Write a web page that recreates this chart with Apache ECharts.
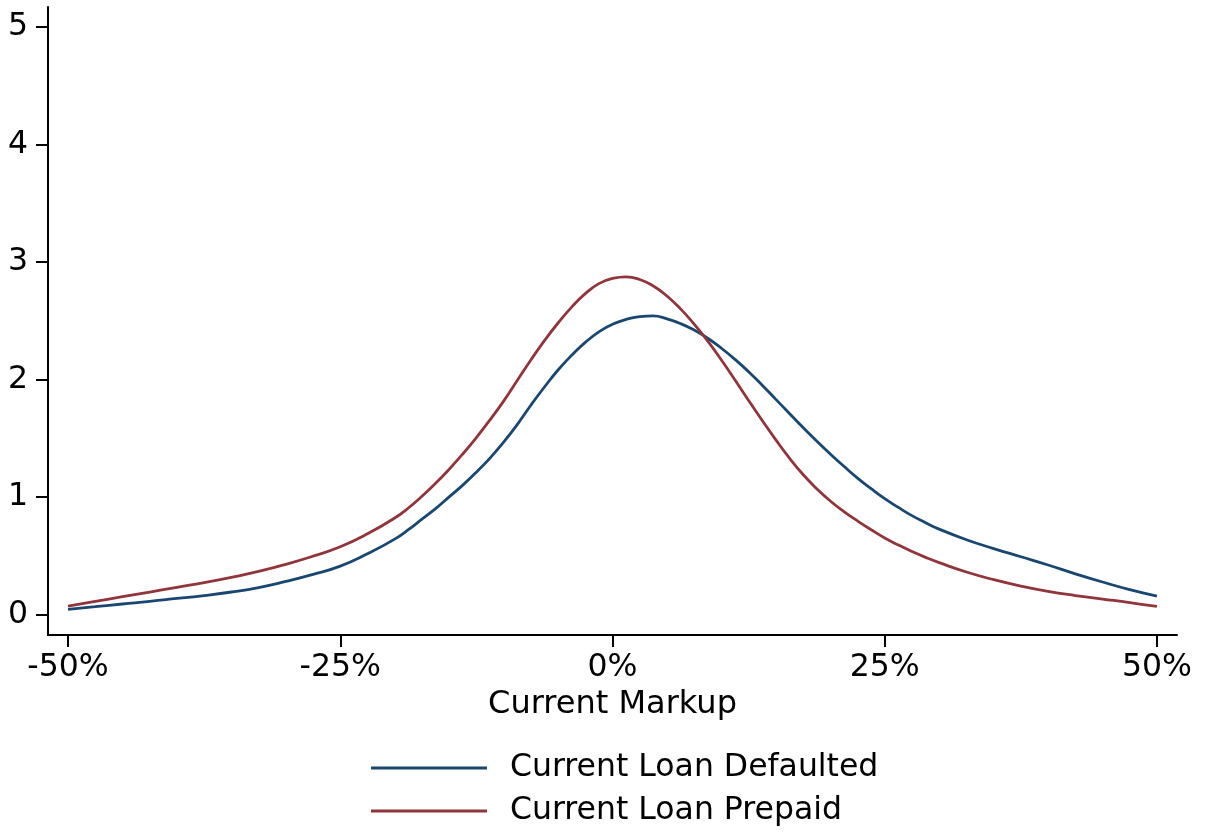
<!DOCTYPE html>
<html>
<head>
<meta charset="utf-8">
<script src="https://cdn.jsdelivr.net/npm/echarts@6/dist/echarts.min.js"></script>
<style>
  html, body { margin: 0; padding: 0; background: #fff; }
  #chart { width: 1206px; height: 833px; }
</style>
</head>
<body>
<div id="chart"></div>
<script>
// Kernel density of current markup, by outcome of the current loan
const seriesNames = ['Current Loan Defaulted', 'Current Loan Prepaid'];

// markup, percent (denser where the curves bend most)
const markup = [-50, -47.5, -45, -42.5, -40, -37.5, -35, -32.5, -30, -27.5, -25, -22.5,
                -20, -18.75, -17.5, -16.25, -15, -13.75, -12.5, -11.25, -10, -8.75,
                -7.5, -6.25, -5, -3.75, -2.5, -1.25, 0, 1.25, 2.5, 3.75,
                5, 6.25, 7.5, 8.75, 10, 11.25, 12.5, 13.75, 15, 16.25,
                17.5, 18.75, 20, 21.25, 22.5, 23.75, 25, 26.25, 27.5, 28.75, 30,
                32.5, 35, 37.5, 40, 42.5, 45, 47.5, 50];

const defaultedDensity = [0.043, 0.065, 0.088, 0.11, 0.135, 0.16, 0.19, 0.228, 0.28, 0.34, 0.41, 0.515,
                          0.64, 0.72, 0.81, 0.90, 1.00, 1.10, 1.21, 1.33, 1.465, 1.615,
                          1.78, 1.935, 2.08, 2.205, 2.315, 2.405, 2.47, 2.51, 2.535, 2.54,
                          2.515, 2.475, 2.42, 2.35, 2.265, 2.17, 2.065, 1.95, 1.83, 1.71,
                          1.59, 1.475, 1.365, 1.26, 1.16, 1.07, 0.985, 0.91, 0.84, 0.78, 0.725,
                          0.635, 0.56, 0.49, 0.42, 0.345, 0.275, 0.21, 0.155];

const prepaidDensity = [0.07, 0.11, 0.15, 0.19, 0.23, 0.27, 0.315, 0.365, 0.425, 0.495, 0.575, 0.685,
                        0.82, 0.905, 1.005, 1.115, 1.235, 1.365, 1.505, 1.655, 1.815, 1.99,
                        2.165, 2.33, 2.48, 2.615, 2.73, 2.815, 2.86, 2.873, 2.85, 2.795,
                        2.71, 2.60, 2.47, 2.325, 2.165, 1.995, 1.82, 1.65, 1.485, 1.33,
                        1.19, 1.07, 0.965, 0.875, 0.795, 0.72, 0.65, 0.59, 0.535, 0.485, 0.44,
                        0.36, 0.295, 0.24, 0.195, 0.16, 0.13, 0.10, 0.067];

const xTicks = [-50, -25, 0, 25, 50];
const yTicks = [0, 1, 2, 3, 4, 5];

const pairs = (xs, ys) => xs.map((x, i) => [x, ys[i]]);

const FONT = 'DejaVu Sans';
const chart = echarts.init(document.getElementById('chart'), null, { renderer: 'canvas' });

chart.setOption({
  animation: false,
  backgroundColor: '#ffffff',
  textStyle: { fontFamily: FONT, color: '#000' },
  grid: { left: 48, right: 29, top: 7, bottom: 198, containLabel: false },
  xAxis: {
    type: 'value',
    min: -51.84,
    max: 51.84,
    name: 'Current Markup',
    nameLocation: 'middle',
    nameGap: 43,
    nameTextStyle: { fontFamily: FONT, fontSize: 32, color: '#000' },
    axisLine: { show: true, onZero: false, lineStyle: { color: '#000', width: 2 } },
    axisTick: { show: true, length: 12, lineStyle: { color: '#000', width: 2 }, customValues: xTicks },
    axisLabel: { fontFamily: FONT, fontSize: 31.5, color: '#000', margin: 17,
                 customValues: xTicks, formatter: v => v + '%' },
    splitLine: { show: false }
  },
  yAxis: {
    type: 'value',
    min: -0.176,
    max: 5.17,
    axisLine: { show: true, onZero: false, lineStyle: { color: '#000', width: 2 } },
    axisTick: { show: true, length: 12, lineStyle: { color: '#000', width: 2 }, customValues: yTicks },
    axisLabel: { fontFamily: FONT, fontSize: 31.5, color: '#000', margin: 20,
                 customValues: yTicks, formatter: v => String(v) },
    splitLine: { show: false }
  },
  legend: {
    orient: 'vertical',
    left: 366,
    top: 747,
    itemWidth: 116,
    itemHeight: 3,
    itemGap: 11,
    icon: 'rect',
    textStyle: { fontFamily: FONT, fontSize: 31.5, lineHeight: 31, color: '#000', padding: [0, 0, 0, 18] },
    data: seriesNames
  },
  series: [
    {
      name: seriesNames[0],
      type: 'line',
      smooth: 0.5,
      showSymbol: false,
      data: pairs(markup, defaultedDensity),
      lineStyle: { color: '#1a476f', width: 2.8 },
      itemStyle: { color: '#1a476f' }
    },
    {
      name: seriesNames[1],
      type: 'line',
      smooth: 0.5,
      showSymbol: false,
      data: pairs(markup, prepaidDensity),
      lineStyle: { color: '#90353b', width: 2.8 },
      itemStyle: { color: '#90353b' }
    }
  ]
});
</script>
</body>
</html>
